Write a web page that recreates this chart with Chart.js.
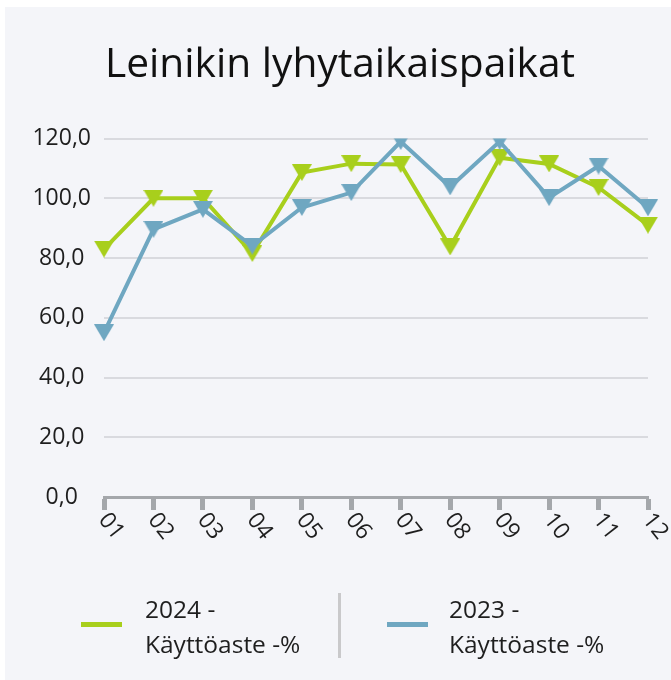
<!DOCTYPE html>
<html>
<head>
<meta charset="utf-8">
<script src="https://cdn.jsdelivr.net/npm/chart.js@4"></script>
<style>
  html, body { margin: 0; padding: 0; background: #ffffff; }
  body { width: 671px; height: 680px; position: relative; overflow: hidden; font-family: "Open Sans", sans-serif; }
  #panel { position: absolute; left: 5px; top: 7px; width: 666px; height: 673px; background: #f4f5f9; }
  #wrap { position: absolute; left: 0; top: 0; width: 671px; height: 680px; }
  #legend { position: absolute; left: 0; top: 0; width: 671px; height: 680px; pointer-events: none; }
  .sw { position: absolute; height: 5px; width: 41px; }
  .lt { position: absolute; font-size: 24.5px; line-height: 35px; color: #1e1e1e; white-space: nowrap; }
  .sep { position: absolute; left: 338px; top: 593px; width: 3px; height: 65px; background: #c9c9cb; }
</style>
</head>
<body>
<div id="panel"></div>
<div id="wrap"><canvas id="c" width="671" height="680"></canvas></div>
<div id="legend"></div>
<script>
const titleText = "Leinikin lyhytaikaispaikat";
const months = ["01","02","03","04","05","06","07","08","09","10","11","12"];
const values2024 = [83, 100, 100, 81.5, 108.6, 111.6, 111.3, 83.7, 113.6, 111.5, 103.6, 91];
const values2023 = [55, 89.6, 96.3, 84, 96.9, 101.9, 119, 103.8, 119, 100.2, 110.8, 96.8];
const seriesNames = [["2024 -", "Käyttöaste -%"], ["2023 -", "Käyttöaste -%"]];
const yTickLabels = ["0,0", "20,0", "40,0", "60,0", "80,0", "100,0", "120,0"];
const colors = ["#a8cf1c", "#6fa7c1"];

function triangleDown(color) {
  const w = 20, h = 17;
  const c = document.createElement('canvas');
  c.width = w; c.height = h;
  const g = c.getContext('2d');
  g.fillStyle = color;
  g.beginPath();
  g.moveTo(0, 0); g.lineTo(w, 0); g.lineTo(w / 2, h); g.closePath();
  g.fill();
  return c;
}

const xLabelPlugin = {
  id: 'xLabels',
  afterDraw(chart) {
    const xs = chart.scales.x;
    const ctx = chart.ctx;
    ctx.save();
    ctx.fillStyle = '#1e1e1e';
    ctx.font = '23px "Open Sans"';
    ctx.textAlign = 'left';
    ctx.textBaseline = 'middle';
    months.forEach((m, i) => {
      const x = xs.getPixelForValue(i);
      ctx.save();
      ctx.translate(x - 1, xs.top + 19);
      ctx.rotate(52 * Math.PI / 180);
      ctx.fillText(m, 0, 0);
      ctx.restore();
    });
    ctx.restore();
  }
};

new Chart(document.getElementById('c'), {
  type: 'line',
  data: {
    labels: months,
    datasets: [
      { label: seriesNames[0].join(' '), data: values2024, borderColor: colors[0], backgroundColor: colors[0],
        borderWidth: 4, pointStyle: triangleDown(colors[0]), pointRadius: 10, order: 1, tension: 0 },
      { label: seriesNames[1].join(' '), data: values2023, borderColor: colors[1], backgroundColor: colors[1],
        borderWidth: 4, pointStyle: triangleDown(colors[1]), pointRadius: 10, order: 0, tension: 0 }
    ]
  },
  options: {
    responsive: false,
    animation: false,
    devicePixelRatio: 1,
    layout: { padding: { left: 32, right: 23, top: 0, bottom: 143 } },
    plugins: {
      legend: { display: false },
      tooltip: { enabled: false },
      title: {
        display: true, text: titleText, color: '#111111',
        font: { family: 'Open Sans', size: 40.7, weight: 'normal', lineHeight: 1.2 },
        padding: { top: 41, bottom: 48.7 }
      }
    },
    scales: {
      x: {
        offset: false,
        afterFit(s) { s.height = 40; },
        grid: { drawOnChartArea: false, drawTicks: true, tickLength: 13, tickWidth: 5, tickColor: '#a4a7ab' },
        border: { display: true, color: '#a4a7ab', width: 3 },
        ticks: { display: false, autoSkip: false, maxRotation: 0 }
      },
      y: {
        min: 0, max: 120,
        afterFit(s) { s.width = 72; },
        grid: { color: '#d9dadf', lineWidth: 2, drawTicks: false },
        border: { display: false },
        ticks: {
          stepSize: 20, padding: 13, color: '#1e1e1e', crossAlign: 'center',
          font: { family: 'Open Sans', size: 23 },
          callback: (v) => yTickLabels[Math.round(v / 20)]
        }
      }
    }
  },
  plugins: [xLabelPlugin]
});

// HTML legend built from series arrays
const legend = document.getElementById('legend');
const items = [{ sw: 81, tx: 145 }, { sw: 387, tx: 449 }];
seriesNames.forEach((lines, i) => {
  const sw = document.createElement('div');
  sw.className = 'sw';
  sw.style.left = items[i].sw + 'px';
  sw.style.top = '622px';
  sw.style.background = colors[i];
  legend.appendChild(sw);
  const t = document.createElement('div');
  t.className = 'lt';
  t.style.left = items[i].tx + 'px';
  t.style.top = '591px';
  t.innerHTML = lines.join('<br>');
  legend.appendChild(t);
});
const sep = document.createElement('div');
sep.className = 'sep';
legend.appendChild(sep);
</script>
</body>
</html>
